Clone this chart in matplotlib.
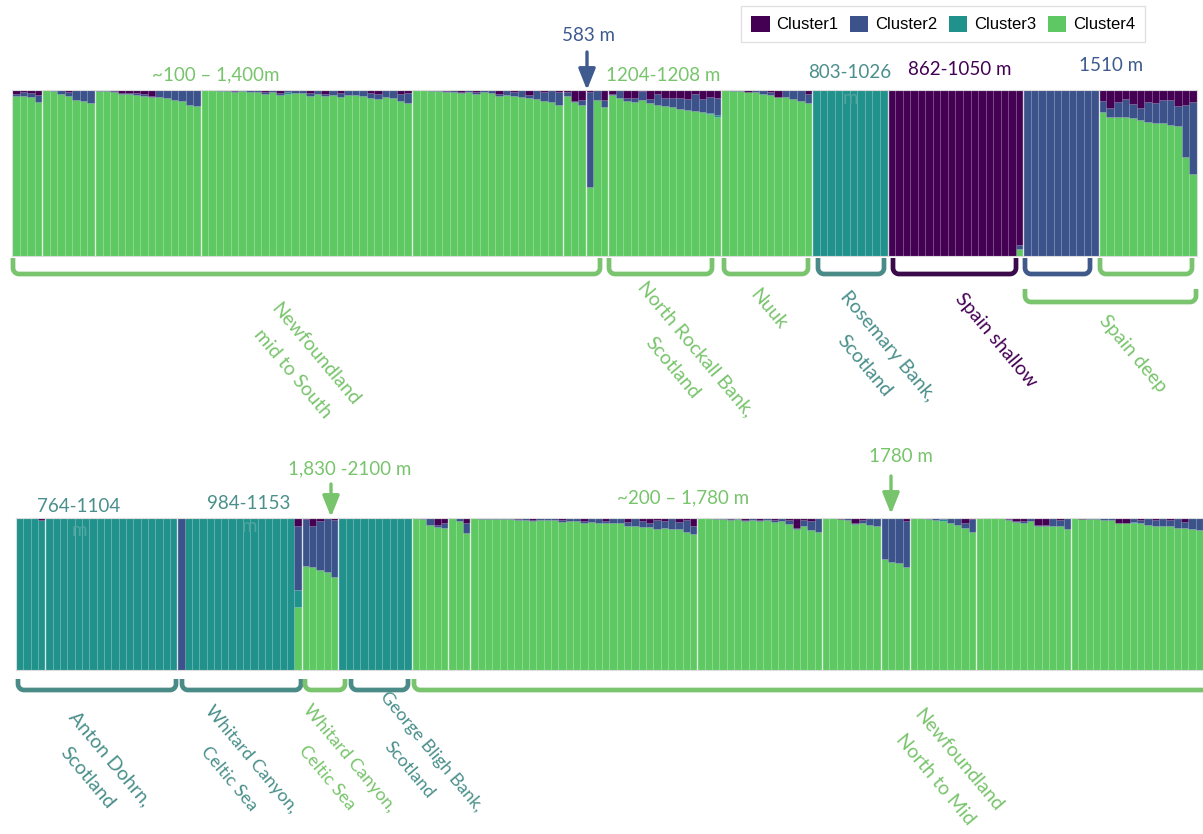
import matplotlib.pyplot as plt
import numpy as np
from matplotlib.patches import Patch

cluster_names = ["Cluster1", "Cluster2", "Cluster3", "Cluster4"]
cluster_colors = ["#440154", "#3b528b", "#21918c", "#5ec962"]

# upper row: samples per site and ancestry proportions for clusters 1-3
# (cluster 4 takes whatever is left of each bar)
top_sizes = [4, 7, 14, 28, 20, 3, 3, 15, 12, 10, 18, 10, 13]
top_c1 = [
    [0.025, 0.015, 0.02, 0.03],
    [0, 0, 0, 0.015, 0, 0, 0],
    [0, 0, 0.005, 0.02, 0.02, 0.02, 0.025, 0.035, 0, 0, 0, 0, 0, 0],
    [0, 0, 0, 0, 0.005, 0, 0, 0, 0.015, 0, 0.02, 0, 0, 0, 0.02, 0, 0.025, 0, 0.02, 0,
     0, 0, 0.02, 0.025, 0, 0, 0.025, 0.02],
    [0, 0, 0, 0, 0.005, 0, 0.012, 0, 0.01, 0, 0, 0.025, 0, 0.015, 0, 0.03, 0, 0.01, 0, 0.01],
    [0.01, 0.065, 0.06],
    [0.012, 0.0, 0.06],
    [0.026, 0, 0.047, 0.05, 0.005, 0.055, 0.026, 0.047, 0.047, 0.047, 0.055, 0.026, 0.055, 0.04, 0.05],
    [0, 0, 0, 0.01, 0, 0, 0.014, 0.04, 0, 0, 0, 0.025],
    [0, 0, 0, 0, 0, 0, 0, 0, 0, 0],
    [1, 1, 1, 1, 1, 1, 1, 1, 1, 1, 1, 1, 1, 1, 1, 1, 1, 0.933],
    [0, 0, 0, 0, 0, 0, 0, 0, 0, 0],
    [0.069, 0.106, 0.071, 0.055, 0.085, 0.11, 0.075, 0.079, 0.061, 0.059, 0.096, 0.089, 0.075],
]
top_c2 = [
    [0.01, 0.02, 0.025, 0.045],
    [0, 0.005, 0.025, 0.02, 0.06, 0.065, 0.08],
    [0.005, 0.005, 0.008, 0.005, 0.005, 0.008, 0.01, 0.01, 0.045, 0.05, 0.06, 0.065, 0.09, 0.095],
    [0, 0.003, 0.005, 0.005, 0.005, 0.008, 0.01, 0.01, 0.01, 0.012, 0.01, 0.015, 0.018, 0.02,
     0.015, 0.025, 0.01, 0.03, 0.02, 0.03, 0.03, 0.035, 0.03, 0.03, 0.045, 0.05, 0.04, 0.06],
    [0, 0.003, 0.005, 0.005, 0.008, 0.01, 0.005, 0.01, 0.012, 0.015, 0.018, 0.01, 0.03, 0.02,
     0.04, 0.02, 0.055, 0.055, 0.07, 0.08],
    [0.025, 0.005, 0.03],
    [0.57, 0.06, 0.045],
    [0.005, 0.05, 0.02, 0.02, 0.055, 0.026, 0.065, 0.049, 0.055, 0.065, 0.067, 0.1, 0.077, 0.098, 0.1],
    [0, 0.004, 0.006, 0.004, 0.014, 0.026, 0.016, 0.005, 0.04, 0.055, 0.065, 0.055],
    [0, 0, 0, 0, 0, 0, 0, 0, 0, 0],
    [0, 0, 0, 0, 0, 0, 0, 0, 0, 0, 0, 0, 0, 0, 0, 0, 0, 0.026],
    [1, 1, 1, 1, 1, 1, 1, 1, 1, 1],
    [0.061, 0.055, 0.089, 0.108, 0.085, 0.071, 0.118, 0.118, 0.14, 0.152, 0.122, 0.315, 0.431],
]
top_c3 = [
    [0, 0, 0, 0],
    [0, 0, 0, 0, 0, 0, 0],
    [0, 0, 0, 0, 0, 0, 0, 0, 0, 0, 0, 0, 0, 0],
    [0, 0, 0, 0, 0, 0, 0, 0, 0, 0, 0, 0.008, 0, 0, 0, 0, 0, 0, 0, 0, 0, 0, 0, 0, 0, 0, 0, 0],
    [0, 0, 0, 0, 0, 0, 0, 0, 0, 0, 0, 0, 0, 0, 0, 0, 0, 0, 0, 0],
    [0, 0, 0],
    [0, 0, 0],
    [0, 0, 0, 0, 0, 0, 0, 0, 0, 0, 0, 0, 0, 0.008, 0.01],
    [0, 0, 0, 0, 0, 0, 0, 0, 0, 0, 0, 0],
    [1, 1, 1, 1, 1, 1, 1, 1, 1, 1],
    [0, 0, 0, 0, 0, 0, 0, 0, 0, 0, 0, 0, 0, 0, 0, 0, 0, 0],
    [0, 0, 0, 0, 0, 0, 0, 0, 0, 0],
    [0, 0, 0, 0, 0, 0, 0, 0, 0, 0, 0, 0, 0],
]

# lower row
bot_sizes = [4, 18, 17, 5, 10, 5, 3, 31, 17, 8, 4, 9, 13, 18]
bot_c1 = [
    [0, 0, 0, 0.015],
    [0, 0, 0, 0, 0, 0, 0, 0, 0, 0, 0, 0, 0, 0, 0, 0, 0, 0],
    [0, 0, 0, 0, 0, 0, 0, 0, 0, 0, 0, 0, 0, 0, 0, 0, 0.053],
    [0.005, 0.053, 0.02, 0, 0.01],
    [0, 0, 0, 0, 0, 0, 0, 0, 0, 0],
    [0, 0, 0, 0.048, 0.033],
    [0, 0, 0.03],
    [0, 0, 0, 0, 0, 0, 0.005, 0, 0.01, 0, 0, 0, 0.015, 0, 0, 0.02, 0, 0, 0.02, 0, 0, 0.025,
     0, 0.02, 0.03, 0.01, 0.02, 0, 0.025, 0.01, 0.05],
    [0, 0, 0, 0, 0.005, 0, 0.01, 0, 0.01, 0, 0.012, 0, 0.015, 0.065, 0.015, 0.022, 0],
    [0, 0, 0.005, 0, 0.035, 0.01, 0, 0],
    [0, 0, 0, 0.022],
    [0, 0, 0, 0, 0, 0, 0, 0.035, 0.005],
    [0, 0, 0, 0, 0.005, 0.02, 0.02, 0, 0.045, 0.048, 0, 0.015, 0],
    [0, 0.005, 0.003, 0, 0, 0, 0.03, 0.03, 0, 0.015, 0, 0.015, 0, 0.015, 0, 0.025, 0, 0],
]
bot_c2 = [
    [0, 0, 0, 0],
    [0, 0, 0, 0, 0, 0, 0, 0, 0, 0, 0, 0, 0, 0, 0, 0, 0, 0],
    [1, 0, 0, 0, 0, 0, 0, 0, 0, 0, 0, 0, 0, 0, 0, 0, 0.42],
    [0.31, 0.27, 0.32, 0.355, 0.375],
    [0, 0, 0, 0, 0, 0, 0, 0, 0, 0],
    [0, 0.004, 0.046, 0.01, 0.03],
    [0, 0.02, 0.07],
    [0.003, 0.005, 0.005, 0.006, 0.008, 0.008, 0.01, 0.01, 0.01, 0.012, 0.015, 0.015, 0.01, 0.02,
     0.02, 0.01, 0.025, 0.03, 0.015, 0.03, 0.035, 0.025, 0.05, 0.04, 0.03, 0.06, 0.045, 0.07,
     0.05, 0.08, 0.055],
    [0, 0.002, 0.004, 0.005, 0.005, 0.008, 0.008, 0.01, 0.012, 0.015, 0.015, 0.02, 0.025, 0.005,
     0.04, 0.06, 0.095],
    [0, 0.003, 0.003, 0.01, 0.005, 0.02, 0.045, 0.055],
    [0.273, 0.289, 0.295, 0.302],
    [0, 0.002, 0.004, 0.015, 0.005, 0.035, 0.045, 0.03, 0.085],
    [0, 0, 0.002, 0.003, 0.005, 0.005, 0.01, 0.022, 0.005, 0.005, 0.05, 0.035, 0.07],
    [0, 0, 0.003, 0.005, 0.01, 0.015, 0.005, 0.005, 0.025, 0.02, 0.045, 0.035, 0.05, 0.035,
     0.065, 0.04, 0.07, 0.08],
]
bot_c3 = [
    [1, 1, 1, 0.985],
    [1, 1, 1, 1, 1, 1, 1, 1, 1, 1, 1, 1, 1, 1, 1, 1, 1, 1],
    [0, 1, 1, 1, 1, 1, 1, 1, 1, 1, 1, 1, 1, 1, 1, 1, 0.11],
    [0, 0, 0, 0, 0],
    [1, 1, 1, 1, 1, 1, 1, 1, 1, 1],
    [0, 0, 0, 0, 0],
    [0, 0, 0],
    [0, 0, 0, 0, 0, 0, 0, 0, 0, 0, 0, 0, 0, 0, 0, 0, 0, 0, 0, 0, 0, 0, 0, 0, 0, 0, 0, 0, 0, 0, 0],
    [0, 0, 0, 0, 0, 0, 0, 0, 0, 0, 0, 0, 0, 0, 0, 0, 0],
    [0, 0, 0, 0, 0, 0, 0, 0],
    [0, 0, 0, 0],
    [0, 0, 0, 0, 0.015, 0, 0, 0, 0],
    [0, 0, 0, 0, 0, 0, 0, 0, 0, 0, 0, 0, 0],
    [0, 0, 0, 0, 0, 0, 0, 0, 0.01, 0, 0, 0, 0, 0, 0, 0, 0, 0],
]

green_txt = "#78c46c"
teal_txt = "#4a8f8b"
purple_txt = "#440154"
blue_txt = "#3e5a8e"
green_br = "#7ac470"
teal_br = "#4b8b87"
purple_br = "#3a0a4b"
blue_br = "#3f5a8a"

W, H = 1203, 834
fig = plt.figure(figsize=(W / 100, H / 100), dpi=100)


def draw_panel(ax, sizes, c1, c2, c3):
    q1 = np.concatenate([np.asarray(g, float) for g in c1])
    q2 = np.concatenate([np.asarray(g, float) for g in c2])
    q3 = np.concatenate([np.asarray(g, float) for g in c3])
    assert len(q1) == len(q2) == len(q3) == sum(sizes)
    q4 = 1 - q1 - q2 - q3
    x = np.arange(len(q1))
    bottom = np.zeros(len(q1))
    # cluster 4 at the bottom, cluster 1 on top
    for q, col in zip([q4, q3, q2, q1], cluster_colors[::-1]):
        ax.bar(x, q, bottom=bottom, width=1, align="edge", color=col,
               edgecolor=(1, 1, 1, 0.06), linewidth=0.5)
        bottom += q
    for b in np.cumsum(sizes)[:-1]:
        ax.axvline(b, color="white", lw=1.0, alpha=0.75)
    ax.set_xlim(0, len(q1))
    ax.set_ylim(0, 1)
    ax.set_xticks([])
    ax.set_yticks([])
    for s in ax.spines.values():
        s.set_color("#dcdcdc")
        s.set_linewidth(0.8)


def px_axes(x0, y0, x1, y1):
    return fig.add_axes([x0 / W, 1 - y1 / H, (x1 - x0) / W, (y1 - y0) / H])


ax_top = px_axes(12, 90, 1197, 256)
draw_panel(ax_top, top_sizes, top_c1, top_c2, top_c3)
ax_bot = px_axes(16, 518, 1203, 670)
draw_panel(ax_bot, bot_sizes, bot_c1, bot_c2, bot_c3)

# overlay in pixel units for brackets, arrows and labels
ov = fig.add_axes([0, 0, 1, 1], zorder=5)
ov.set_xlim(0, W)
ov.set_ylim(H, 0)
ov.axis("off")
ov.patch.set_alpha(0)


def bracket(x0, x1, ytop, ybot, color, r=6):
    t1 = np.linspace(np.pi, np.pi / 2, 10)
    t2 = np.linspace(np.pi / 2, 0, 10)
    xs = np.concatenate([[x0], x0 + r + r * np.cos(t1), x1 - r + r * np.cos(t2), [x1]])
    ys = np.concatenate([[ytop], ybot - r + r * np.sin(t1), ybot - r + r * np.sin(t2), [ytop]])
    ov.plot(xs, ys, color=color, lw=3.4, solid_capstyle="butt", solid_joinstyle="round")


for x0, x1, col in [(13, 600, green_br), (609, 712, green_br), (724, 808, green_br),
                    (818, 884, teal_br), (893, 1016, purple_br), (1025, 1090, blue_br),
                    (1100, 1192, green_br)]:
    bracket(x0, x1, 258, 274, col)
bracket(1025, 1196, 289, 302, green_br)

for x0, x1, col in [(18, 176, teal_br), (182, 301, teal_br), (305, 345, green_br),
                    (351, 408, teal_br), (414, 1240, green_br)]:
    bracket(x0, x1, 679, 690, col)

lab = dict(family="Lato", fontsize=14, ha="center", va="center", rotation=-50,
           rotation_mode="anchor", multialignment="center", linespacing=1.9)
ov.text(304, 364, "Newfoundland\nmid to South", color=green_txt, **lab)
ov.text(684, 358, "North Rockall Bank,\nScotland", color=green_txt, **lab)
ov.text(768, 309, "Nuuk", color=green_txt, **lab)
ov.text(876, 356, "Rosemary Bank,\nScotland", color=teal_txt, **lab)
ov.text(996, 340, "Spain shallow", color=purple_txt, **lab)
ov.text(1133, 354, "Spain deep", color=green_txt, **lab)
ov.text(99, 768, "Anton Dohrn,\nScotland", color=teal_txt, **lab)
low = dict(lab, fontsize=13, linespacing=2.0)
ov.text(240, 769, "Whitard Canyon,\nCeltic Sea", color=teal_txt, **low)
ov.text(338, 768, "Whitard Canyon,\nCeltic Sea", color=green_txt, **low)
ov.text(420, 761, "George Bligh Bank,\nScotland", color=teal_txt, **low)
ov.text(947, 770, "Newfoundland\nNorth to Mid", color=green_txt, **lab)

dep = dict(family="Lato", fontsize=13.5, ha="center", va="center")
ov.text(216, 75, "~100 – 1,400m", color=green_txt, **dep)
ov.text(588, 35, "583 m", color=blue_txt, **dep)
ov.text(663, 75, "1204-1208 m", color=green_txt, **dep)
ov.text(850, 72, "803-1026", color=teal_txt, **dep)
ov.text(850, 98, "m", color="#4fa59f", **dep)
ov.text(960, 69, "862-1050 m", color=purple_txt, **dep)
ov.text(1111, 65, "1510 m", color=blue_txt, **dep)
ov.text(79, 507, "764-1104", color=teal_txt, **dep)
ov.text(79, 530, "m", color="#4fa59f", **dep)
ov.text(249, 503, "984-1153", color=teal_txt, **dep)
ov.text(249, 527, "m", color="#4fa59f", **dep)
ov.text(350, 469, "1,830 -2100 m", color=green_txt, **dep)
ov.text(683, 498, "~200 – 1,780 m", color=green_txt, **dep)
ov.text(901, 456, "1780 m", color=green_txt, **dep)

arrow = dict(arrowstyle="-|>,head_length=0.8,head_width=0.32", lw=2.4,
             mutation_scale=16, shrinkA=0, shrinkB=0)
ov.annotate("", xy=(587, 90), xytext=(587, 52), arrowprops=dict(color=blue_txt, **arrow))
ov.annotate("", xy=(331, 517), xytext=(331, 484), arrowprops=dict(color=green_txt, **arrow))
ov.annotate("", xy=(891, 514), xytext=(891, 476), arrowprops=dict(color=green_txt, **arrow))

handles = [Patch(facecolor=c, label=n) for c, n in zip(cluster_colors, cluster_names)]
fig.legend(handles=handles, loc="center", bbox_to_anchor=(943 / W, 1 - 24 / H), ncol=4,
           frameon=True, fancybox=False, edgecolor="#d9d9d9",
           prop={"family": "Liberation Sans", "size": 12},
           handlelength=1.1, handleheight=1.1, handletextpad=0.4, columnspacing=0.7,
           borderpad=0.6)

fig.savefig("out.png", dpi=100, facecolor="white")
